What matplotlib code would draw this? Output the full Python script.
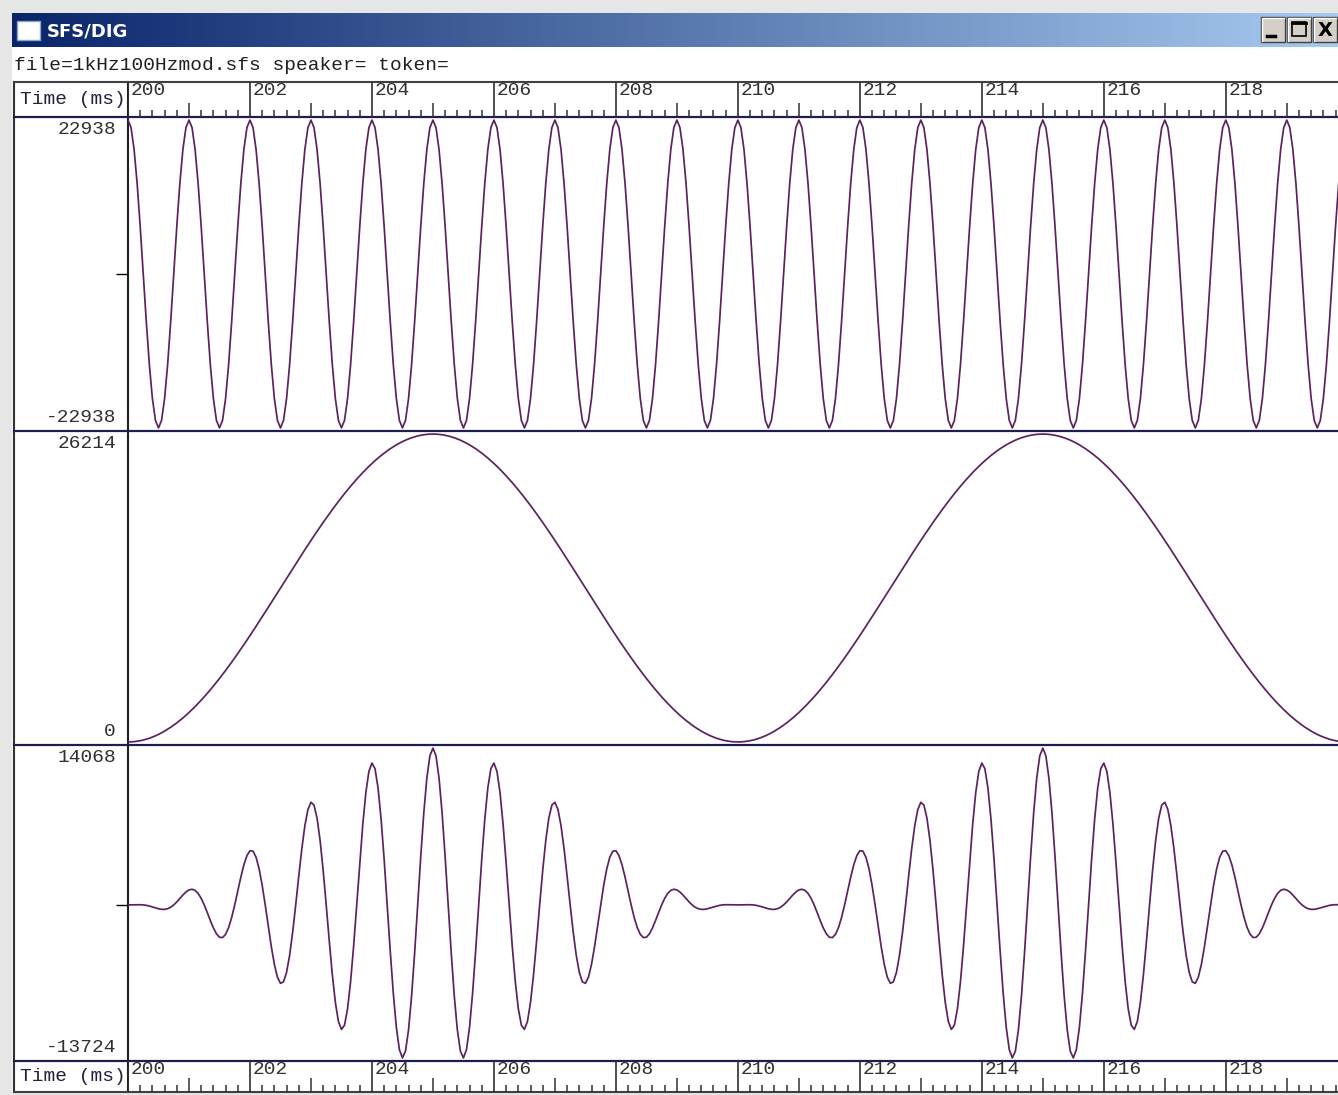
import numpy as np
import matplotlib
matplotlib.use("Agg")
import matplotlib.pyplot as plt
from matplotlib.patches import Rectangle
from matplotlib.colors import LinearSegmentedColormap

# values
carrier_hz = 1000          # top trace: one peak every ms
carrier_peak = 22938
mod_hz = 100               # middle trace: raised cosine, 10 ms period
mod_peak = 26214
product_peak = 14068       # bottom trace: carrier * modulator
sample_rate = 20000
view_start, view_end = 200.0, 219.84

panel_max = [22938, 26214, 14068]
panel_min = [-22938, 0, -13724]
time_labels = [200, 202, 204, 206, 208, 210, 212, 214, 216, 218]

# screen layout (pixels)
W, H = 1338, 1095
LEFT, SPLIT = 14, 128
panel_rows = [(117, 431), (431, 745), (745, 1061)]
top_strip = (82, 117)
bottom_strip = (1061, 1092)

wave_color = "#5c2260"
line_color = "#1e1e50"
mono = "Liberation Mono"


def box(x0, y0, x1, y1):
    return [x0 / W, 1 - y1 / H, (x1 - x0) / W, (y1 - y0) / H]


# signals
n0 = int(view_start * sample_rate / 1000)
n1 = int(220 * sample_rate / 1000)
t_ms = np.arange(n0, n1 + 1) * 1000.0 / sample_rate
carrier = np.round(carrier_peak * np.cos(2 * np.pi * carrier_hz * t_ms / 1000))
env = (1 - np.cos(2 * np.pi * mod_hz * t_ms / 1000)) / 2
modulator = np.round(mod_peak * env)
product = np.round(product_peak * env * np.cos(2 * np.pi * carrier_hz * t_ms / 1000))
traces = [carrier, modulator, product]

fig = plt.figure(figsize=(W / 100, H / 100), dpi=100, facecolor="#e6e6e6")

# window chrome
canvas = fig.add_axes([0, 0, 1, 1])
canvas.axis("off")
grad = LinearSegmentedColormap.from_list("title", ["#0a246a", "#a6caf0"])
canvas.imshow(np.linspace(0, 1, 256)[None, :], cmap=grad, aspect="auto",
              extent=(12, W, 47, 13))
canvas.add_patch(Rectangle((12, 47), W - 12, 1046, facecolor="white", edgecolor="none"))
canvas.add_patch(Rectangle((17, 21), 23, 19, facecolor="white", edgecolor="#8aa4d0", lw=1))
canvas.text(47, 31, "SFS/DIG", color="white", fontsize=13, fontweight="bold",
            family="DejaVu Sans", va="center")
for bx in [1261, 1287, 1313]:
    canvas.add_patch(Rectangle((bx, 17), 24, 25, facecolor="#d4d0c8", edgecolor="#404040", lw=1))
    canvas.plot([bx + 1, bx + 1, bx + 23], [41, 18, 18], color="white", lw=1)
canvas.plot([1267, 1275], [36, 36], color="black", lw=2.5)
canvas.add_patch(Rectangle((1292, 22), 14, 14, facecolor="none", edgecolor="black", lw=1.2))
canvas.plot([1292, 1306], [23, 23], color="black", lw=2)
canvas.text(1325, 30, "X", fontsize=14, fontweight="bold", ha="center", va="center")

canvas.text(LEFT, 65, "file=1kHz100Hzmod.sfs speaker= token=", family=mono,
            fontsize=14, va="center", color="#202020")

# frame lines
canvas.plot([LEFT, LEFT], [top_strip[0], bottom_strip[1]], color="#303030", lw=1.5)
canvas.plot([SPLIT, SPLIT], [top_strip[0], bottom_strip[1]], color="#202020", lw=1.5)
for y in [top_strip[0], bottom_strip[1]]:
    canvas.plot([LEFT, W], [y, y], color="#404040", lw=1.5)
for y in [top_strip[1], 431, 745, bottom_strip[0]]:
    canvas.plot([LEFT, W], [y, y], color=line_color, lw=1.6)
for strip in [top_strip, bottom_strip]:
    canvas.text(20, (strip[0] + strip[1]) / 2, "Time (ms)", family=mono, fontsize=14,
                va="center", color="#202040")
canvas.set_xlim(0, W)
canvas.set_ylim(H, 0)

# waveform panels
for (y0, y1), trace, vmax, vmin in zip(panel_rows, traces, panel_max, panel_min):
    ax = fig.add_axes(box(SPLIT, y0, W, y1))
    ax.patch.set_visible(False)
    for sp in ax.spines.values():
        sp.set_visible(False)
    ax.plot(t_ms, trace, color=wave_color, lw=1.25)
    pad = 0.01 * (vmax - vmin)
    ax.set_xlim(view_start, view_end)
    ax.set_ylim(vmin - pad, vmax + pad)
    ax.set_xticks([])
    if vmin < 0 < vmax:
        ax.set_yticks([0])
        ax.tick_params(axis="y", length=9, width=1, color="black", labelleft=False)
    else:
        ax.set_yticks([])
    canvas.text(116, y0 + 13, str(vmax), family=mono, fontsize=14, ha="right",
                va="center", color="#303030")
    canvas.text(116, y1 - 13, str(vmin), family=mono, fontsize=14, ha="right",
                va="center", color="#303030")

# time rulers: full line every 2 ms, taller tick at odd ms, short tick every 0.2 ms
major = np.arange(200, 222, 2)
medium = np.arange(201, 221, 2)
minor = np.arange(1000, 1100) / 5.0
minor = minor[np.round(minor * 5) % 5 != 0]
for s0, s1 in [top_strip, bottom_strip]:
    ax = fig.add_axes(box(SPLIT, s0, W, s1))
    ax.axis("off")
    h = s1 - s0
    ax.set_xlim(view_start, view_end)
    ax.set_ylim(0, h)
    ax.vlines(major, 0, h, color="#303030", lw=1.2)
    ax.vlines(medium, 0, 14, color="#303030", lw=1.1)
    ax.vlines(minor, 0, 7, color="#303030", lw=1.1)
    for t in time_labels:
        ax.annotate(str(t), (t, h), xytext=(2, 0), textcoords="offset points",
                    family=mono, fontsize=14, va="top", ha="left", color="#303030")

fig.savefig("out.png", dpi=100, facecolor=fig.get_facecolor())
